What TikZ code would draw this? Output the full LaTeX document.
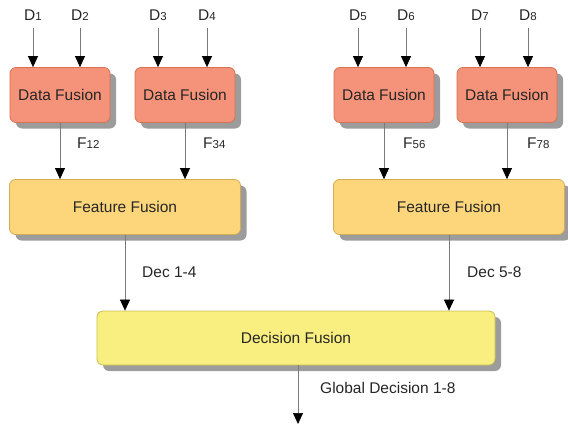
\documentclass[tikz,border=0pt]{standalone}
\usepackage{fontspec}
\setmainfont{Liberation Sans}
\usetikzlibrary{arrows.meta,shadows}
\definecolor{datafill}{HTML}{F5937A}
\definecolor{dataedge}{HTML}{D8714F}
\definecolor{featfill}{HTML}{FDD67C}
\definecolor{featedge}{HTML}{D2AE52}
\definecolor{decfill}{HTML}{F9EF80}
\definecolor{decedge}{HTML}{C9BD4E}
\definecolor{shadowgray}{HTML}{9C9C9C}
\definecolor{linegray}{HTML}{7A7A7A}
\definecolor{ink}{HTML}{262626}
\newcommand{\sm}[1]{{\fontsize{11.5}{12}\selectfont #1}}
\tikzset{
  fbox/.style={draw, line width=0.8pt, rounded corners=6pt, inner sep=0pt,
    font=\fontsize{15.5}{17}\selectfont, text=ink,
    drop shadow={shadow xshift=6pt, shadow yshift=-6pt, fill=shadowgray, opacity=1}},
  databox/.style={fbox, fill=datafill, draw=dataedge, minimum width=100pt, minimum height=55pt},
  featbox/.style={fbox, fill=featfill, draw=featedge, minimum width=231pt, minimum height=55pt},
  decbox/.style={fbox, fill=decfill, draw=decedge, minimum width=398pt, minimum height=54pt},
  flow/.style={draw=linegray, line width=0.7pt,
    -{Triangle[width=10pt,length=11pt,fill=black,color=black]}},
  lbl/.style={font=\fontsize{15.5}{17}\selectfont, text=ink, inner sep=0pt},
}
\begin{document}
\begin{tikzpicture}[x=1pt,y=-1pt]
\useasboundingbox (0,0) rectangle (568,428);

% data fusion stage
\node[databox] (df1) at (60,95) {Data Fusion};
\node[databox] (df2) at (185,95) {Data Fusion};
\node[databox] (df3) at (384,95) {Data Fusion};
\node[databox] (df4) at (507,95) {Data Fusion};

% sensor inputs
\foreach \i/\x/\b in {1/33/df1, 2/80/df1, 3/158/df2, 4/207/df2, 5/358/df3, 6/406/df3, 7/480/df4, 8/528/df4} {
  \node[lbl] (d\i) at (\x,15) {D\sm{\i}};
  \coordinate (t\i) at (\x,28);
  \draw[flow] (t\i) -- (\b.north -| t\i);
}

% feature fusion stage
\node[featbox] (ff1) at (125,207) {Feature Fusion};
\node[featbox] (ff2) at (449,207) {Feature Fusion};

\draw[flow] (df1.south) -- (ff1.north -| df1.south);
\draw[flow] (df2.south) -- (ff1.north -| df2.south);
\draw[flow] (df3.south) -- (ff2.north -| df3.south);
\draw[flow] (df4.south) -- (ff2.north -| df4.south);
\node[lbl, anchor=west] (f12) at (77,143) {F\sm{12}};
\node[lbl, anchor=west] (f34) at (203,143) {F\sm{34}};
\node[lbl, anchor=west] (f56) at (403,143) {F\sm{56}};
\node[lbl, anchor=west] (f78) at (527,143) {F\sm{78}};

% decision fusion stage
\node[decbox] (dec) at (296,338) {Decision Fusion};
\draw[flow] (ff1.south) -- (dec.north -| ff1.south);
\draw[flow] (ff2.south) -- (dec.north -| ff2.south);
\node[lbl, anchor=west] (dec14) at (142,272) {Dec 1-4};
\node[lbl, anchor=west] (dec58) at (467,272) {Dec 5-8};

% global output
\coordinate (out) at (298,424);
\draw[flow] (dec.south -| out) -- (out);
\node[lbl, anchor=west] (glob) at (320,388) {Global Decision 1-8};
\end{tikzpicture}
\end{document}
